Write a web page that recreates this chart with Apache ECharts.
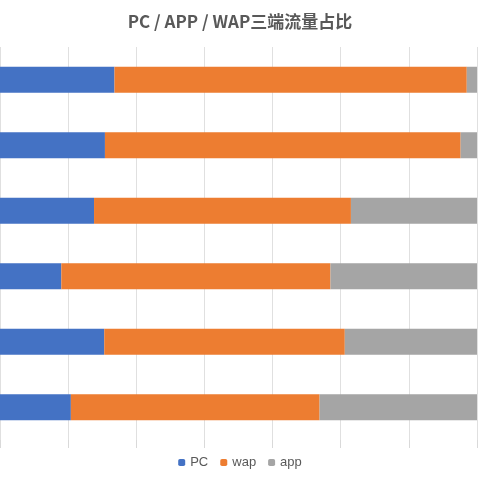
<!DOCTYPE html><html><head><meta charset="utf-8"><script src="https://cdn.jsdelivr.net/npm/echarts@6/dist/echarts.min.js"></script></head><body style="margin:0"><div id="c" style="width:480px;height:480px"></div><script>
const categories=['1','2','3','4','5','6'];
const pc=[46.8,45.4,43.8,39.0,45.3,40.4];
const wap=[51.7,52.2,37.7,39.5,35.3,36.5];
const app=[1.5,2.4,18.5,21.5,19.4,23.1];
const ch=echarts.init(document.getElementById('c'));
const s=(n,d,c)=>({name:n,type:'bar',stack:'a',data:d,barWidth:26,clip:true,itemStyle:{color:c}});
ch.setOption({
title:{text:'PC / APP / WAP三端流量占比',left:'center',top:8,textStyle:{color:'#595959',fontSize:17,fontWeight:'bold',fontFamily:'Noto Sans CJK SC'}},
legend:{bottom:6,itemWidth:7,itemHeight:7,itemGap:12,textStyle:{color:'#595959',fontSize:13},data:['PC','wap','app']},
grid:{left:0,right:3,top:47,bottom:40,containLabel:false},
xAxis:{type:'value',min:30,max:100,interval:10,axisLabel:{show:false},axisLine:{show:false},axisTick:{show:true,length:8,lineStyle:{color:'#d9d9d9'}},splitLine:{lineStyle:{color:'#e0e0e0'}}},
yAxis:{type:'category',data:categories,inverse:true,axisLabel:{show:false},axisTick:{show:false},axisLine:{show:false}},
series:[s('PC',pc,'#4472c4'),s('wap',wap,'#ed7d31'),s('app',app,'#a5a5a5')]
});
</script></body></html>
